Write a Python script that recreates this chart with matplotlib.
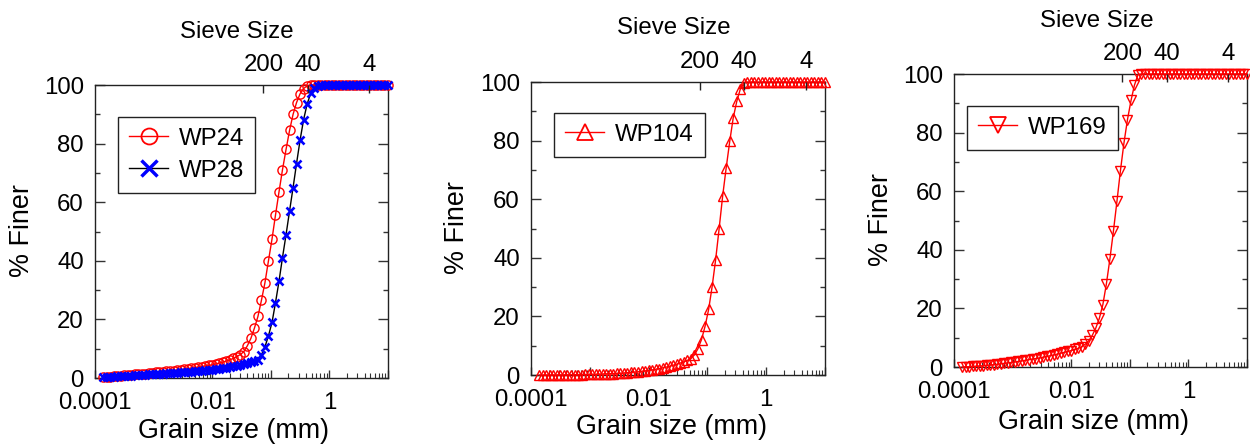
import matplotlib
matplotlib.use('Agg')
import matplotlib.pyplot as plt
from matplotlib.ticker import FixedLocator, FixedFormatter, NullLocator, LogLocator, NullFormatter

plt.rcParams['font.family'] = ['Liberation Sans', 'DejaVu Sans']

# ---------------- data ----------------
grain_mm = [0.000138, 0.000158, 0.000182, 0.000209, 0.000240, 0.000275, 0.000316, 0.000363,
            0.000417, 0.000479, 0.000550, 0.000631, 0.000724, 0.000832, 0.000955, 0.00110,
            0.00126, 0.00145, 0.00166, 0.00191, 0.00219, 0.00251, 0.00288, 0.00331,
            0.00380, 0.00437, 0.00501, 0.00575, 0.00661, 0.00759, 0.00871, 0.0100,
            0.0115, 0.0132, 0.0151, 0.0174, 0.0200, 0.0229, 0.0263, 0.0302,
            0.0347, 0.0398, 0.0457, 0.0525, 0.0603, 0.0692, 0.0794, 0.0912,
            0.105, 0.120, 0.138, 0.158, 0.182, 0.209, 0.240, 0.275,
            0.316, 0.363, 0.417, 0.479, 0.550, 0.631, 0.724, 0.832,
            0.955, 1.10, 1.26, 1.45, 1.66, 1.91, 2.19, 2.51,
            2.88, 3.31, 3.80, 4.37, 5.01, 5.75, 6.61, 7.59, 8.71, 10.0]

wp24 = [0.3, 0.4, 0.5, 0.6, 0.7, 0.8, 0.9, 1.0,
        1.1, 1.2, 1.3, 1.4, 1.5, 1.6, 1.75, 1.9,
        2.0, 2.1, 2.25, 2.4, 2.5, 2.65, 2.8, 2.95,
        3.1, 3.3, 3.5, 3.7, 3.9, 4.1, 4.3, 4.5,
        4.8, 5.1, 5.4, 5.8, 6.2, 6.7, 7.3, 8.0,
        9.0, 11.0, 13.5, 17.0, 21.0, 26.5, 32.5, 40.0,
        47.5, 55.5, 63.5, 71.0, 78.0, 84.5, 90.0, 94.0,
        97.0, 98.8, 99.7, 100, 100, 100, 100, 100,
        100, 100, 100, 100, 100, 100, 100, 100,
        100, 100, 100, 100, 100, 100, 100, 100, 100, 100]

wp28 = [0.2, 0.3, 0.4, 0.5, 0.55, 0.65, 0.75, 0.8,
        0.85, 0.9, 1.0, 1.05, 1.15, 1.2, 1.3, 1.4,
        1.45, 1.5, 1.6, 1.65, 1.75, 1.8, 1.9, 2.0,
        2.1, 2.2, 2.3, 2.4, 2.5, 2.6, 2.75, 2.9,
        3.05, 3.2, 3.35, 3.55, 3.75, 3.95, 4.15, 4.4,
        4.65, 4.95, 5.3, 5.7, 6.3, 7.9, 10.6, 14.4,
        19.0, 25.6, 33.0, 41.0, 48.9, 57.0, 65.0, 73.2,
        81.2, 88.2, 93.5, 97.1, 99.0, 99.8, 100, 100,
        100, 100, 100, 100, 100, 100, 100, 100,
        100, 100, 100, 100, 100, 100, 100, 100, 100, 100]

wp104 = [0.0, 0.0, 0.0, 0.01, 0.02, 0.03, 0.04, 0.05,
         0.06, 0.08, 0.1, 0.12, 0.15, 0.18, 0.2, 0.22,
         0.25, 0.3, 0.35, 0.4, 0.45, 0.5, 0.55, 0.6,
         0.7, 0.8, 0.9, 1.0, 1.1, 1.25, 1.4, 1.55,
         1.75, 1.95, 2.2, 2.45, 2.7, 3.0, 3.35, 3.7,
         4.1, 4.5, 5.0, 5.6, 6.9, 9.0, 12.1, 16.6,
         22.4, 30.0, 39.3, 49.8, 61.2, 70.8, 79.8, 87.8,
         93.4, 97.6, 99.7, 100, 100, 100, 100, 100,
         100, 100, 100, 100, 100, 100, 100, 100,
         100, 100, 100, 100, 100, 100, 100, 100, 100, 100]

wp169 = [0.0, 0.05, 0.1, 0.2, 0.25, 0.35, 0.45, 0.55,
         0.7, 0.8, 0.95, 1.1, 1.25, 1.4, 1.55, 1.7,
         1.9, 2.1, 2.3, 2.5, 2.7, 2.9, 3.1, 3.35,
         3.6, 3.85, 4.1, 4.4, 4.7, 5.0, 5.3, 5.6,
         6.0, 6.4, 6.9, 7.8, 9.0, 10.8, 13.3, 16.6,
         21.3, 28.3, 36.8, 46.3, 56.5, 67.0, 76.4, 84.4,
         91.0, 96.2, 99.8, 100, 100, 100, 100, 100,
         100, 100, 100, 100, 100, 100, 100, 100,
         100, 100, 100, 100, 100, 100, 100, 100,
         100, 100, 100, 100, 100, 100, 100, 100, 100, 100]

sieve_numbers = ['200', '40', '4']
sieve_mm = [0.075, 0.425, 4.75]

bottom_tick_mm = [0.0001, 0.001, 0.01, 0.1, 1, 10]
bottom_tick_labels = ['0.0001', '', '0.01', '', '1', '']

# ---------------- layout ----------------
W, H = 1250, 448
FS = 17.3      # tick / legend text (pt)
FS_LAB = 19.4  # axis labels (pt)

fig = plt.figure(figsize=(W / 100, H / 100), dpi=100)


def rect(l, t, r, b):
    return [l / W, 1 - b / H, (r - l) / W, (b - t) / H]


def fpos(x, y):
    return x / W, 1 - y / H


panels = [
    dict(box=(95, 85, 388, 378), leg=(118, 117), sieve=(237, 32), grain=(234, 431), finer=(22, 231),
         series=[dict(y=wp24, label='WP24', color='red', lc='red', marker='o', ms=6.6, mew=1.0, lms=11.5),
                 dict(y=wp28, label='WP28', color='blue', lc='black', marker='x', ms=6.4, mew=1.9, lms=11.0)]),
    dict(box=(531, 82, 825, 375), leg=(554, 113), sieve=(674, 28), grain=(671, 427), finer=(457, 228),
         series=[dict(y=wp104, label='WP104', color='red', lc='red', marker='^', ms=6.8, mew=1.0, lms=12.0)]),
    dict(box=(954, 74, 1247, 367), leg=(967, 106), sieve=(1097, 21), grain=(1094, 422), finer=(881, 220),
         series=[dict(y=wp169, label='WP169', color='red', lc='red', marker='v', ms=6.8, mew=1.0, lms=12.0)]),
]

for p in panels:
    l, t, r, b = p['box']
    ax = fig.add_axes(rect(l, t, r, b))
    for s in p['series']:
        ax.plot(grain_mm, s['y'], color=s['lc'], lw=1.0, marker=s['marker'], ms=s['ms'],
                mfc='none', mec=s['color'], mew=s['mew'], label=s['label'], clip_on=False, zorder=3)
    ax.set_xscale('log')
    ax.set_xlim(1e-4, 10)
    ax.set_ylim(0, 100)
    ax.xaxis.set_major_locator(FixedLocator(bottom_tick_mm))
    ax.xaxis.set_major_formatter(FixedFormatter(bottom_tick_labels))
    ax.xaxis.set_minor_locator(LogLocator(base=10, subs=range(2, 10), numticks=20))
    ax.xaxis.set_minor_formatter(NullFormatter())
    ax.yaxis.set_major_locator(FixedLocator([0, 20, 40, 60, 80, 100]))
    ax.yaxis.set_minor_locator(FixedLocator([10, 30, 50, 70, 90]))
    ax.tick_params(axis='both', which='both', direction='in', colors='#333333', labelcolor='black')
    ax.tick_params(axis='x', which='major', length=6, width=1.0, labelsize=FS, pad=10, top=False)
    ax.tick_params(axis='x', which='minor', length=3.5, width=0.8, top=False)
    ax.tick_params(axis='y', which='major', length=7, width=1.0, labelsize=FS, pad=8, right=True)
    ax.tick_params(axis='y', which='minor', length=3.6, width=1.0, right=True)
    for sp in ax.spines.values():
        sp.set_linewidth(1.0)
        sp.set_color('#222222')

    ax2 = ax.twiny()
    ax2.set_xscale('log')
    ax2.set_xlim(1e-4, 10)
    ax2.xaxis.set_major_locator(FixedLocator(sieve_mm))
    ax2.xaxis.set_major_formatter(FixedFormatter(sieve_numbers))
    ax2.xaxis.set_minor_locator(NullLocator())
    ax2.tick_params(axis='x', which='major', direction='in', length=6, width=1.0, colors='#222222',
                    labelcolor='black', labelsize=FS, pad=6.5)
    for sp in ax2.spines.values():
        sp.set_visible(False)

    leg = ax.legend(loc='upper left', bbox_to_anchor=((p['leg'][0] - l) / (r - l), (b - p['leg'][1]) / (b - t)),
                    borderaxespad=0, fontsize=FS, frameon=True, fancybox=False, framealpha=1,
                    edgecolor='#222222', handlelength=1.65, handletextpad=0.45, borderpad=0.45,
                    labelspacing=0.42)
    leg.get_frame().set_linewidth(1.0)
    for h, s in zip(leg.legend_handles, p['series']):
        h.set_markersize(s['lms'])
        h.set_markeredgewidth(s['mew'] * 1.3)

    fig.text(*fpos(*p['sieve']), 'Sieve Size', fontsize=FS, ha='center', va='center')
    fig.text(*fpos(*p['grain']), 'Grain size (mm)', fontsize=FS_LAB, ha='center', va='center')
    fig.text(*fpos(*p['finer']), '% Finer', fontsize=FS_LAB, ha='center', va='center', rotation=90)

fig.savefig('out.png', dpi=100)
